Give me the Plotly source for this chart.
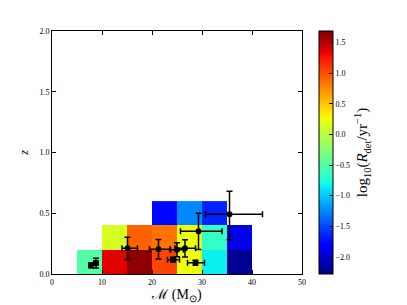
import numpy as np
import plotly.graph_objects as go

# Heatmap bins and values (log10 R_det)
x_edges = [5, 10, 15, 20, 25, 30, 35, 40]
z_edges = [0.0, 0.2, 0.4, 0.6]
log_rate = [
    [-0.49, 1.36, 1.65, 1.05, 0.25, -0.85, -2.22],
    [None, 0.14, 0.93, 0.85, 0.25, -0.65, -1.92],
    [None, None, None, -1.76, -1.25, -1.65, None],
]
cmin, cmax = -2.28, 1.69

# Events with error bars
ev_mass = [7.8, 8.8, 15.1, 21.3, 24.2, 25.0, 26.6, 28.7, 29.3, 35.5]
ev_mass_lo = [0.3, 0.4, 1.1, 1.8, 1.1, 1.3, 2.0, 1.6, 3.6, 4.8]
ev_mass_hi = [0.3, 0.4, 2.0, 2.3, 1.3, 1.3, 2.1, 1.8, 4.7, 6.6]
ev_z = [0.071, 0.09, 0.211, 0.203, 0.118, 0.20, 0.211, 0.093, 0.351, 0.491]
ev_z_lo = [0.02, 0.04, 0.092, 0.08, 0.02, 0.058, 0.071, 0.02, 0.15, 0.21]
ev_z_hi = [0.02, 0.04, 0.092, 0.08, 0.02, 0.058, 0.071, 0.02, 0.15, 0.19]

# matplotlib 'jet' colorscale
_r = [(0, 0), (0.35, 0), (0.66, 1), (0.89, 1), (1, 0.5)]
_g = [(0, 0), (0.125, 0), (0.375, 1), (0.64, 1), (0.91, 0), (1, 0)]
_b = [(0, 0.5), (0.11, 1), (0.34, 1), (0.65, 0), (1, 0)]
stops = sorted(set([p[0] for p in _r + _g + _b]))
def ch(tbl, s):
    return float(np.interp(s, [p[0] for p in tbl], [p[1] for p in tbl]))
jet = [[s, "rgb(%d,%d,%d)" % (round(255 * ch(_r, s)), round(255 * ch(_g, s)), round(255 * ch(_b, s)))] for s in stops]

serif = "Liberation Serif"

fig = go.Figure()
fig.add_trace(go.Heatmap(
    x=x_edges, y=z_edges, z=log_rate,
    colorscale=jet, zmin=cmin, zmax=cmax, hoverongaps=False,
    colorbar=dict(
        x=1.066, xanchor="left", xpad=0, y=0.5, yanchor="middle", ypad=0,
        len=1.0, lenmode="fraction", thickness=14,
        outlinecolor="black", outlinewidth=1,
        tickvals=[-2.0, -1.5, -1.0, -0.5, 0.0, 0.5, 1.0, 1.5],
        ticktext=["\u22122.0", "\u22121.5", "\u22121.0", "\u22120.5", "0.0", "0.5", "1.0", "1.5"],
        ticks="inside", ticklen=4, tickcolor="black",
        tickfont=dict(family=serif, size=8, color="black"),
        title=dict(text="log<sub>10</sub>(<i>R</i><sub>det</sub>/yr<sup>\u22121</sup>)",
                   side="right", font=dict(family=serif, size=15, color="black")),
    ),
))
fig.add_trace(go.Scatter(
    x=ev_mass, y=ev_z, mode="markers",
    marker=dict(color="black", size=6),
    error_x=dict(type="data", symmetric=False, array=ev_mass_hi, arrayminus=ev_mass_lo,
                 color="black", thickness=1.5, width=3),
    error_y=dict(type="data", symmetric=False, array=ev_z_hi, arrayminus=ev_z_lo,
                 color="black", thickness=1.5, width=3),
    showlegend=False,
))

axis_common = dict(
    showgrid=False, zeroline=False, showline=True, linecolor="black", linewidth=1,
    mirror="ticks", ticks="inside", ticklen=4, tickcolor="black",
    tickfont=dict(family=serif, size=8, color="black"),
)
fig.update_layout(
    width=407, height=305,
    margin=dict(l=44, r=113, t=23, b=39, autoexpand=False),
    paper_bgcolor="white", plot_bgcolor="white",
    xaxis=dict(range=[0, 50], tickvals=[0, 10, 20, 30, 40, 50],
               title=dict(text="\u2133 (M<sub>\u2299</sub>)", standoff=3,
                          font=dict(family=serif, size=14, color="black")),
               **axis_common),
    yaxis=dict(range=[0, 2], tickvals=[0, 0.5, 1.0, 1.5, 2.0],
               ticktext=["0.0", "0.5", "1.0", "1.5", "2.0"],
               title=dict(text="<i>z</i>", standoff=8,
                          font=dict(family=serif, size=12, color="black")),
               **axis_common),
)
fig.write_html("out.html")
